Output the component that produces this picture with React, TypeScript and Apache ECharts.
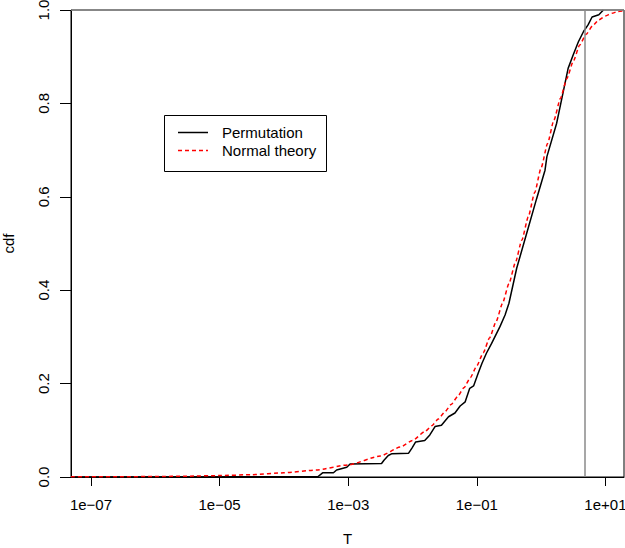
import React, { useEffect, useRef } from "react";
import * as echarts from "echarts";

// Permutation ECDF (T, cdf)
const permT = [
  4.89e-8, 3.4e-4, 4.0e-4, 5.9e-4, 6.6e-4, 9.5e-4, 1.07e-3, 3.3e-3, 3.6e-3, 4.2e-3,
  4.8e-3, 8.7e-3, 0.0098, 0.0112, 0.0155, 0.0186, 0.0224, 0.0282, 0.0363, 0.0457,
  0.055, 0.066, 0.0776, 0.0891, 0.105, 0.12, 0.141, 0.17, 0.229, 0.275,
  0.316, 0.417, 0.603, 0.851, 1.15, 1.23, 1.74, 2.24, 2.63, 3.16,
  3.8, 4.57, 5.37, 6.2, 7.9, 9.3,
];
const permCdf = [
  0, 0.001, 0.009, 0.009, 0.015, 0.021, 0.028, 0.029, 0.036, 0.046,
  0.05, 0.051, 0.062, 0.075, 0.078, 0.09, 0.108, 0.111, 0.129, 0.137,
  0.152, 0.161, 0.19, 0.195, 0.222, 0.243, 0.265, 0.286, 0.322, 0.347,
  0.372, 0.447, 0.524, 0.596, 0.657, 0.686, 0.757, 0.829, 0.875, 0.904,
  0.932, 0.954, 0.968, 0.985, 0.99, 1.0,
];

// Normal theory cdf (T, cdf)
const normT = [
  4.89e-8, 1e-7, 3.16e-7, 1e-6, 3.16e-6, 1e-5, 3.16e-5, 1e-4, 3.16e-4, 1e-3,
  3.16e-3, 6.46e-3, 0.01, 0.0158, 0.02, 0.0251, 0.0316, 0.0398, 0.0501, 0.0631,
  0.0794, 0.1, 0.126, 0.158, 0.2, 0.251, 0.316, 0.398, 0.501, 0.631,
  0.794, 1, 1.26, 1.58, 2.0, 2.51, 3.16, 3.98, 5.01, 6.31,
  7.94, 10, 12.6, 15.8, 19.45,
];
const normCdf = [
  0.0003, 0.0004, 0.0006, 0.001, 0.0018, 0.003, 0.005, 0.009, 0.015, 0.026,
  0.045, 0.064, 0.078, 0.098, 0.11, 0.124, 0.139, 0.155, 0.172, 0.191,
  0.213, 0.238, 0.266, 0.298, 0.333, 0.372, 0.414, 0.459, 0.507, 0.557,
  0.609, 0.662, 0.714, 0.764, 0.811, 0.853, 0.89, 0.925, 0.948, 0.966,
  0.979, 0.987, 0.993, 0.997, 0.998,
];

const xTicks = [1e-7, 1e-5, 1e-3, 1e-1, 1e1];
const xMin = 4.89e-8;
const xMax = 19.45;
const criticalT = 4.79;
const legendLabels = ["Permutation", "Normal theory"];

const FONT = "Liberation Sans, Arial, Helvetica, sans-serif";

function fmtExp(v: number): string {
  const e = Math.round(Math.log10(v));
  const s = e < 0 ? "\u2212" : "+";
  const a = Math.abs(e);
  return "1e" + s + (a < 10 ? "0" + a : String(a));
}

export default function App() {
  const ref = useRef<HTMLDivElement>(null);
  useEffect(() => {
    if (!ref.current) return;
    const chart = echarts.init(ref.current, undefined, { renderer: "svg" });
    const perm = permT.map((t, i) => [t, permCdf[i]]);
    const norm = normT.map((t, i) => [t, normCdf[i]]);
    chart.setOption({
      animation: false,
      backgroundColor: "#ffffff",
      textStyle: { fontFamily: FONT },
      grid: {
        left: 71,
        top: 10,
        right: 1,
        bottom: 71,
        show: true,
        borderColor: "#000",
        borderWidth: 1,
        containLabel: false,
        outerBoundsMode: "none",
      },
      graphic: [
        {
          type: "rect",
          shape: { x: 164.5, y: 115.5, width: 162, height: 56 },
          style: { fill: "#fff", stroke: "#000", lineWidth: 1 },
          z: 10,
        },
        {
          type: "line",
          shape: { x1: 178, y1: 132.5, x2: 208, y2: 132.5 },
          style: { stroke: "#000", lineWidth: 1.5 },
          z: 11,
        },
        {
          type: "line",
          shape: { x1: 178, y1: 150.5, x2: 208, y2: 150.5 },
          style: { stroke: "#ff0000", lineWidth: 1.5, lineDash: [4, 3] },
          z: 11,
        },
        {
          type: "text",
          x: 222,
          y: 132.5,
          style: {
            text: legendLabels[0],
            fontSize: 15,
            fontFamily: FONT,
            fill: "#000",
            verticalAlign: "middle",
          },
          z: 11,
        },
        {
          type: "text",
          x: 222,
          y: 150.5,
          style: {
            text: legendLabels[1],
            fontSize: 15,
            fontFamily: FONT,
            fill: "#000",
            verticalAlign: "middle",
          },
          z: 11,
        },
      ],
      xAxis: {
        type: "log",
        logBase: 10,
        min: xMin,
        max: xMax,
        name: "T",
        nameLocation: "middle",
        nameGap: 54,
        nameTextStyle: { fontFamily: FONT, fontSize: 15, color: "#000" },
        axisLine: { show: true, lineStyle: { color: "#000", width: 1 } },
        axisTick: {
          show: true,
          length: 9,
          lineStyle: { color: "#000", width: 1 },
          customValues: xTicks,
        },
        axisLabel: {
          fontFamily: FONT,
          fontSize: 15,
          color: "#000",
          margin: 20,
          customValues: xTicks,
          formatter: (v: number) => fmtExp(v),
        },
        splitLine: { show: false },
        minorTick: { show: false },
      },
      yAxis: {
        type: "value",
        min: 0,
        max: 1,
        interval: 0.2,
        name: "cdf",
        nameLocation: "middle",
        nameGap: 55,
        nameTextStyle: { fontFamily: FONT, fontSize: 15, color: "#000" },
        axisLine: { show: true, lineStyle: { color: "#000", width: 1 } },
        axisTick: { show: true, length: 11, lineStyle: { color: "#000", width: 1 } },
        axisLabel: {
          fontFamily: FONT,
          fontSize: 15,
          color: "#000",
          rotate: 90,
          margin: 20,
          showMaxLabel: true,
          showMinLabel: true,
          formatter: (v: number) => v.toFixed(1),
        },
        splitLine: { show: false },
      },
      series: [
        {
          name: legendLabels[0],
          type: "line",
          data: perm,
          showSymbol: false,
          symbol: "none",
          lineStyle: { color: "#000", width: 1.5 },
          itemStyle: { color: "#000" },
          z: 2,
          markLine: {
            silent: true,
            symbol: ["none", "none"],
            label: { show: false },
            lineStyle: { color: "#8a8a8a", type: "solid", width: 1.5 },
            data: [{ yAxis: 1 }, { xAxis: criticalT }],
          },
        },
        {
          name: legendLabels[1],
          type: "line",
          data: norm,
          showSymbol: false,
          symbol: "none",
          smooth: 0.2,
          smoothMonotone: "x",
          lineStyle: { color: "#ff0000", width: 1.5, type: [4, 3] },
          itemStyle: { color: "#ff0000" },
          z: 3,
        },
      ],
    });
    return () => chart.dispose();
  }, []);
  return (
    <div
      ref={ref}
      style={{ position: "absolute", left: 0, top: 0, width: 625, height: 548 }}
    />
  );
}
